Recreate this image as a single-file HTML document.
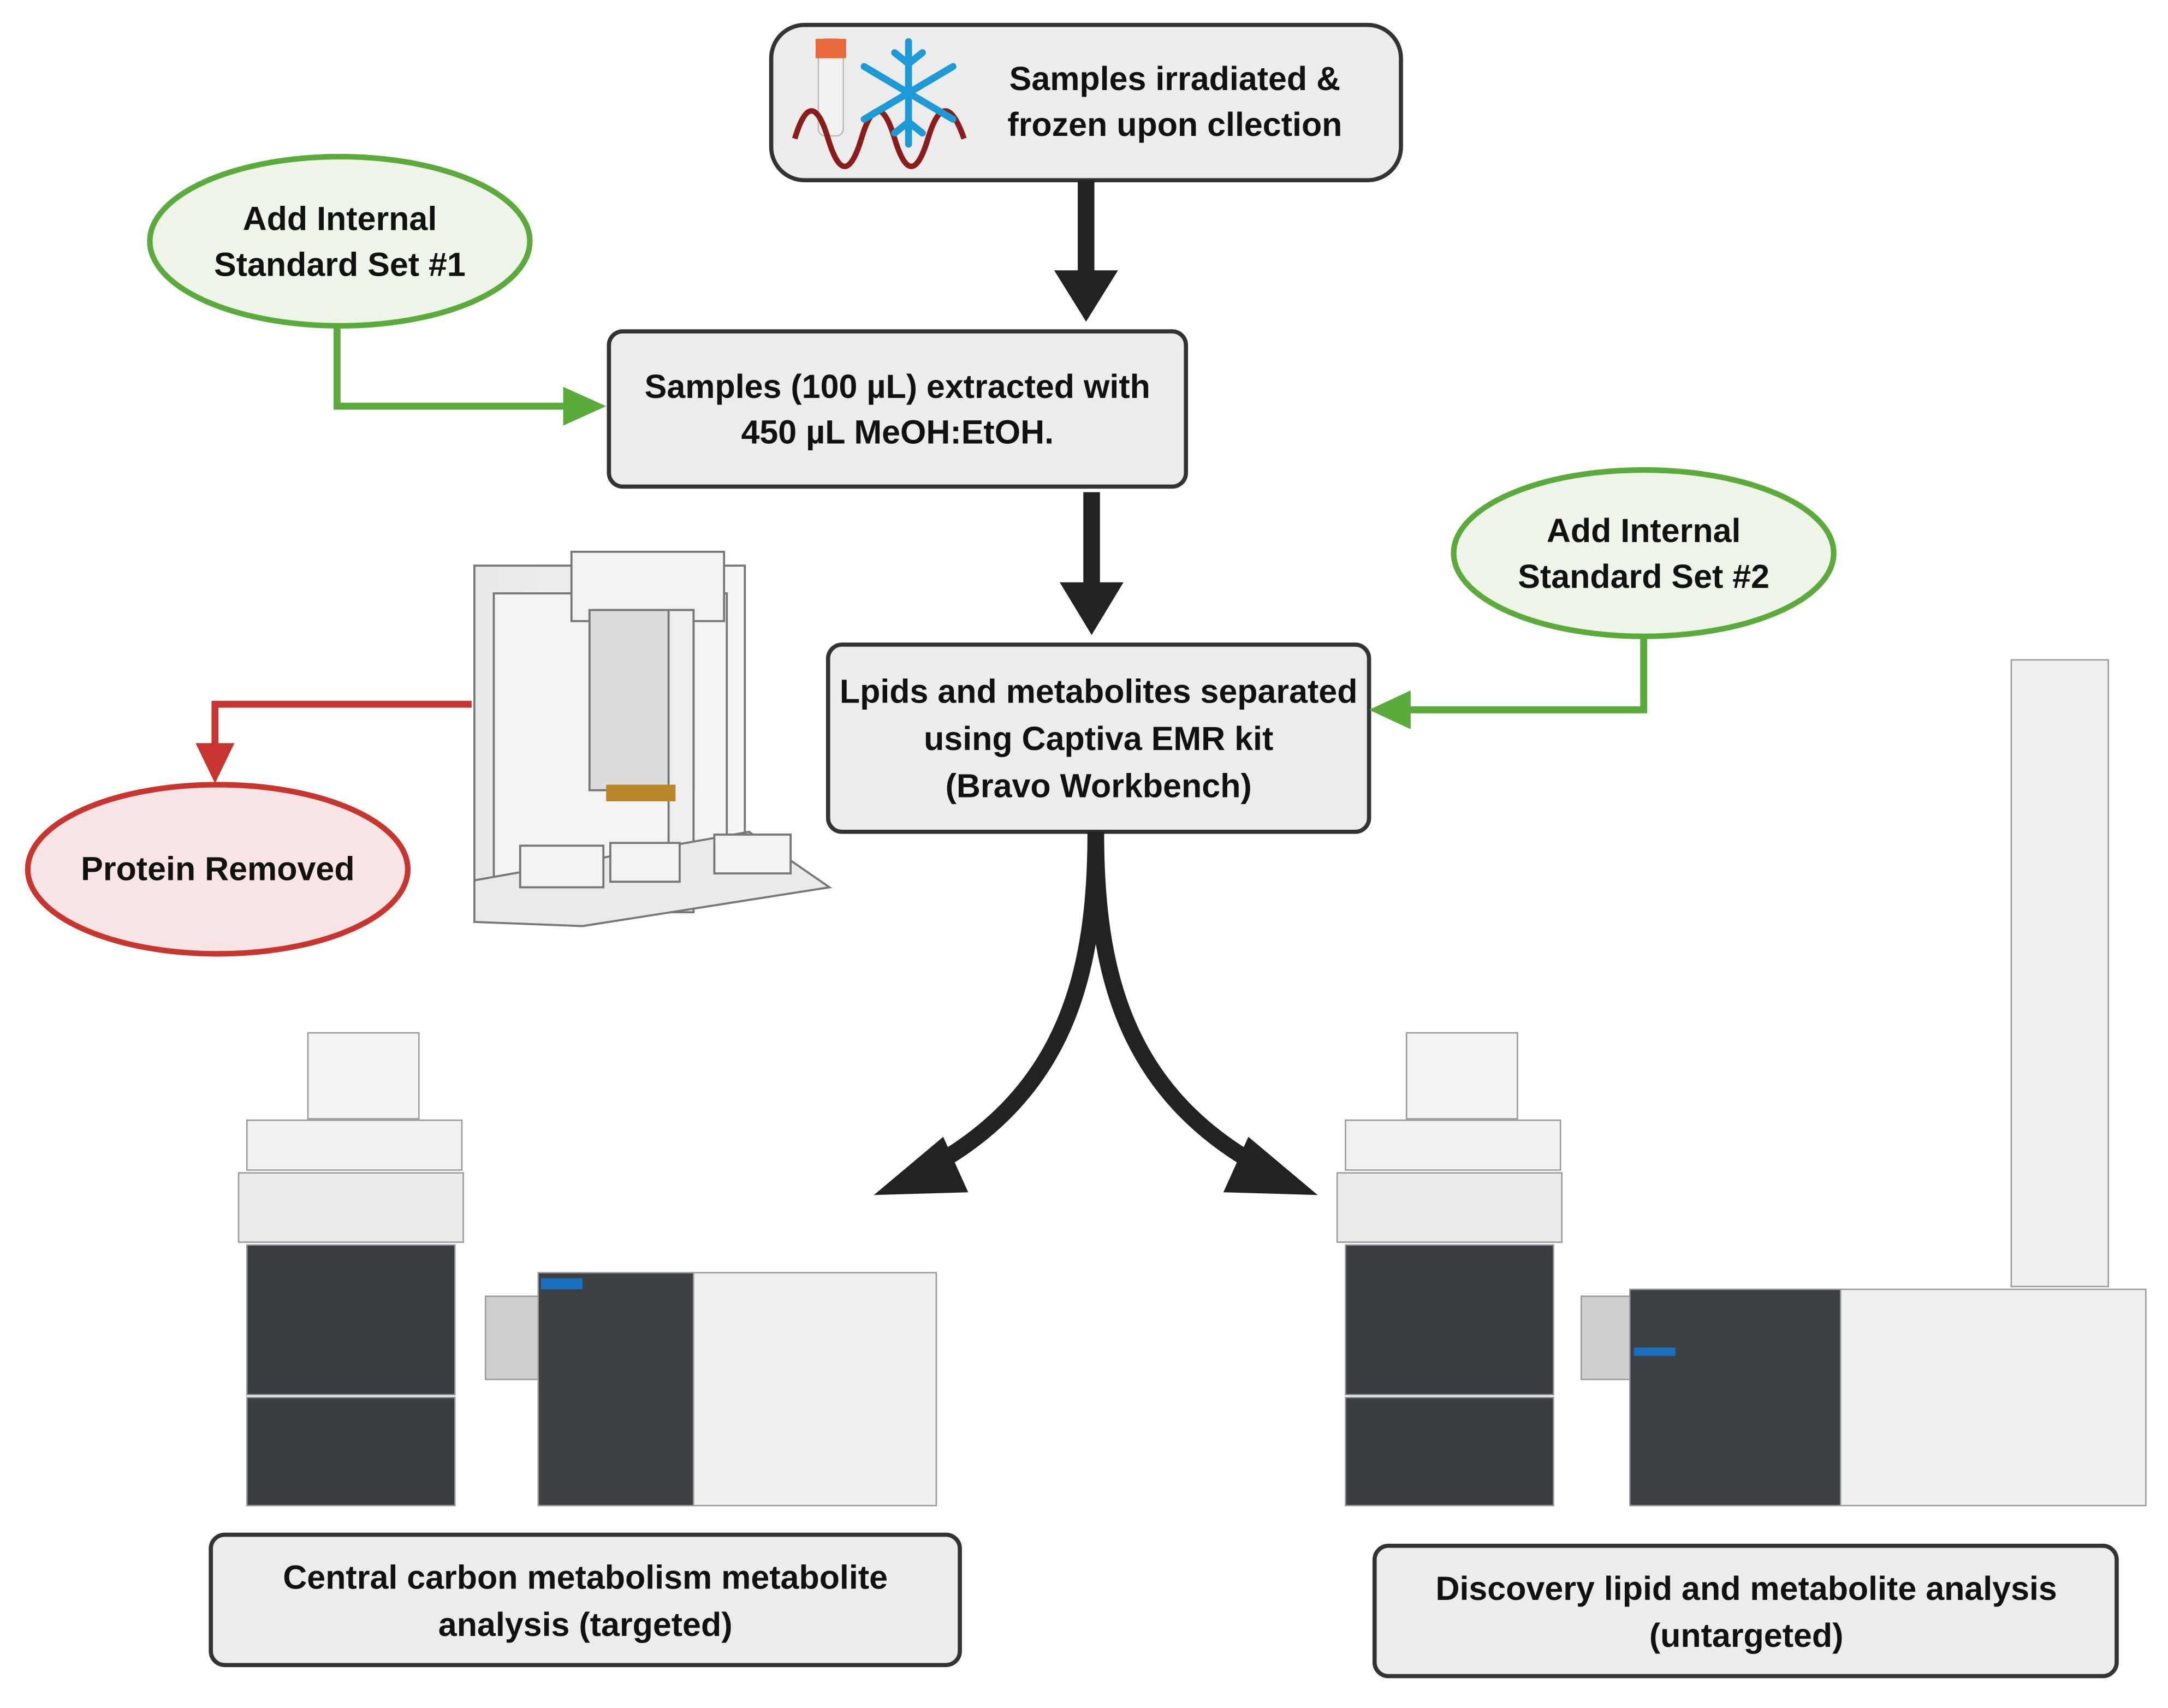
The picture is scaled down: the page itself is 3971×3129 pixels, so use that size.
<!DOCTYPE html>
<html><head><meta charset="utf-8"><style>
html,body{margin:0;padding:0;background:#fff}
svg{display:block}
text{font-family:"Liberation Sans",sans-serif;font-weight:bold;fill:#111;text-anchor:middle}
</style></head><body>
<svg width="3971" height="3129" viewBox="0 0 1563 1232" preserveAspectRatio="none" xmlns="http://www.w3.org/2000/svg">
<defs>
<linearGradient id="g1" x1="0" x2="1"><stop offset="0" stop-color="#e8e8e8"/><stop offset="1" stop-color="#f6f6f6"/></linearGradient>
</defs>
<!-- top box -->
<rect x="556" y="18" width="454" height="112" rx="24" fill="#ececec" stroke="#333" stroke-width="3"/>
<text x="847" y="65" font-size="24">Samples irradiated &amp;</text>
<text x="847" y="98" font-size="24">frozen upon cllection</text>
<!-- icon -->
<rect x="590" y="28" width="18" height="70" rx="5" fill="#f1f1f1" stroke="#bbb"/>
<rect x="588" y="28" width="22" height="14" fill="#e86a3a"/>
<path d="M573 100 Q585 60 597 100 T621 100 T645 100 T669 100 T695 100" fill="none" stroke="#8a1c1c" stroke-width="4"/>
<g stroke="#1c9ad6" stroke-width="5" fill="none" stroke-linecap="round">
<line x1="655" y1="30" x2="655" y2="104"/><line x1="623" y1="48" x2="687" y2="86"/><line x1="623" y1="86" x2="687" y2="48"/>
<path d="M645 38 L655 46 L665 38 M645 96 L655 88 L665 96"/>
</g>
<!-- arrow 1 -->
<rect x="777" y="130" width="12" height="68" fill="#222"/>
<polygon points="760,195 806,195 783,232" fill="#222"/>
<!-- ellipse 1 -->
<ellipse cx="245" cy="174" rx="137" ry="61" fill="#eef5e8" stroke="#5aaa3c" stroke-width="4"/>
<text x="245" y="166" font-size="24">Add Internal</text>
<text x="245" y="199" font-size="24">Standard Set #1</text>
<polyline points="243,236 243,293 410,293" fill="none" stroke="#5aaa3c" stroke-width="5"/>
<polygon points="406,279 406,307 437,293" fill="#5aaa3c"/>
<!-- box 2 -->
<rect x="439" y="239" width="416" height="112" rx="10" fill="#ececec" stroke="#333" stroke-width="3"/>
<text x="647" y="287" font-size="24">Samples (100 µL) extracted with</text>
<text x="647" y="320" font-size="24">450 µL MeOH:EtOH.</text>
<!-- arrow 2 -->
<rect x="781" y="355" width="12" height="68" fill="#222"/>
<polygon points="764,420 810,420 787,458" fill="#222"/>
<!-- box 3 -->
<rect x="597" y="465" width="390" height="135" rx="10" fill="#ececec" stroke="#333" stroke-width="3"/>
<text x="792" y="507" font-size="24">Lpids and metabolites separated</text>
<text x="792" y="541" font-size="24">using Captiva EMR kit</text>
<text x="792" y="575" font-size="24">(Bravo Workbench)</text>
<!-- ellipse 2 -->
<ellipse cx="1185" cy="399" rx="137" ry="60" fill="#eef5e8" stroke="#5aaa3c" stroke-width="4"/>
<text x="1185" y="391" font-size="24">Add Internal</text>
<text x="1185" y="424" font-size="24">Standard Set #2</text>
<polyline points="1185,459 1185,512 1015,512" fill="none" stroke="#5aaa3c" stroke-width="5"/>
<polygon points="1017,498 1017,526 987,512" fill="#5aaa3c"/>
<!-- robot -->
<g fill="#e4e4e4" stroke="#777" stroke-width="1.5">
<rect x="342" y="408" width="195" height="230" fill="url(#g1)"/>
<rect x="356" y="428" width="168" height="205" fill="#f4f4f4"/>
<rect x="412" y="398" width="110" height="50" fill="#f2f2f2"/>
<rect x="425" y="440" width="75" height="130" fill="#dcdcdc"/>
<rect x="482" y="440" width="18" height="218" fill="#eee"/>
<polygon points="342,635 540,600 598,640 420,668 342,665" fill="#eaeaea"/>
<rect x="375" y="610" width="60" height="30" fill="#f3f3f3"/>
<rect x="440" y="608" width="50" height="28" fill="#f3f3f3"/>
<rect x="515" y="602" width="55" height="28" fill="#f3f3f3"/>
</g>
<rect x="437" y="566" width="50" height="12" fill="#b8862a"/>
<!-- red -->
<polyline points="340,508 155,508 155,540" fill="none" stroke="#c8352e" stroke-width="5"/>
<polygon points="141,536 169,536 155,565" fill="#c8352e"/>
<ellipse cx="157" cy="627" rx="137" ry="61" fill="#f8e4e4" stroke="#c8352e" stroke-width="4"/>
<text x="157" y="635" font-size="24">Protein Removed</text>
<!-- curved arrows -->
<path d="M790 600 C790 700 770 790 665 845" fill="none" stroke="#222" stroke-width="12"/>
<polygon points="630,862 680,820 698,860" fill="#222"/>
<path d="M790 600 C790 700 810 790 915 845" fill="none" stroke="#222" stroke-width="12"/>
<polygon points="950,862 900,820 882,860" fill="#222"/>
<!-- instrument left -->
<g stroke="#999" stroke-width="1">
<rect x="222" y="745" width="80" height="62" fill="#f3f3f3"/>
<rect x="178" y="808" width="155" height="36" fill="#f0f0f0"/>
<rect x="172" y="846" width="162" height="50" fill="#eaeaea"/>
<rect x="178" y="898" width="150" height="108" fill="#3a3d42"/>
<rect x="178" y="1008" width="150" height="78" fill="#3a3d42"/>
<rect x="350" y="935" width="40" height="60" fill="#cfcfcf"/>
<rect x="388" y="918" width="112" height="168" fill="#3d4045"/>
<rect x="500" y="918" width="175" height="168" fill="#eeeeee"/>
</g>
<rect x="390" y="922" width="30" height="8" fill="#1a6fbf"/>
<!-- instrument right -->
<g stroke="#999" stroke-width="1">
<rect x="1450" y="476" width="70" height="452" fill="#efefef"/>
<rect x="1014" y="745" width="80" height="62" fill="#f3f3f3"/>
<rect x="970" y="808" width="155" height="36" fill="#f0f0f0"/>
<rect x="964" y="846" width="162" height="50" fill="#eaeaea"/>
<rect x="970" y="898" width="150" height="108" fill="#3a3d42"/>
<rect x="970" y="1008" width="150" height="78" fill="#3a3d42"/>
<rect x="1140" y="935" width="36" height="60" fill="#cfcfcf"/>
<rect x="1175" y="930" width="152" height="156" fill="#3d4045"/>
<rect x="1327" y="930" width="220" height="156" fill="#efefef"/>
</g>
<rect x="1178" y="972" width="30" height="6" fill="#1a6fbf"/>
<!-- bottom boxes -->
<rect x="152" y="1107" width="540" height="94" rx="10" fill="#ececec" stroke="#333" stroke-width="3"/>
<text x="422" y="1146" font-size="24">Central carbon metabolism metabolite</text>
<text x="422" y="1180" font-size="24">analysis (targeted)</text>
<rect x="991" y="1115" width="535" height="94" rx="10" fill="#ececec" stroke="#333" stroke-width="3"/>
<text x="1259" y="1154" font-size="24">Discovery lipid and metabolite analysis</text>
<text x="1259" y="1188" font-size="24">(untargeted)</text>
</svg>
</body></html>
